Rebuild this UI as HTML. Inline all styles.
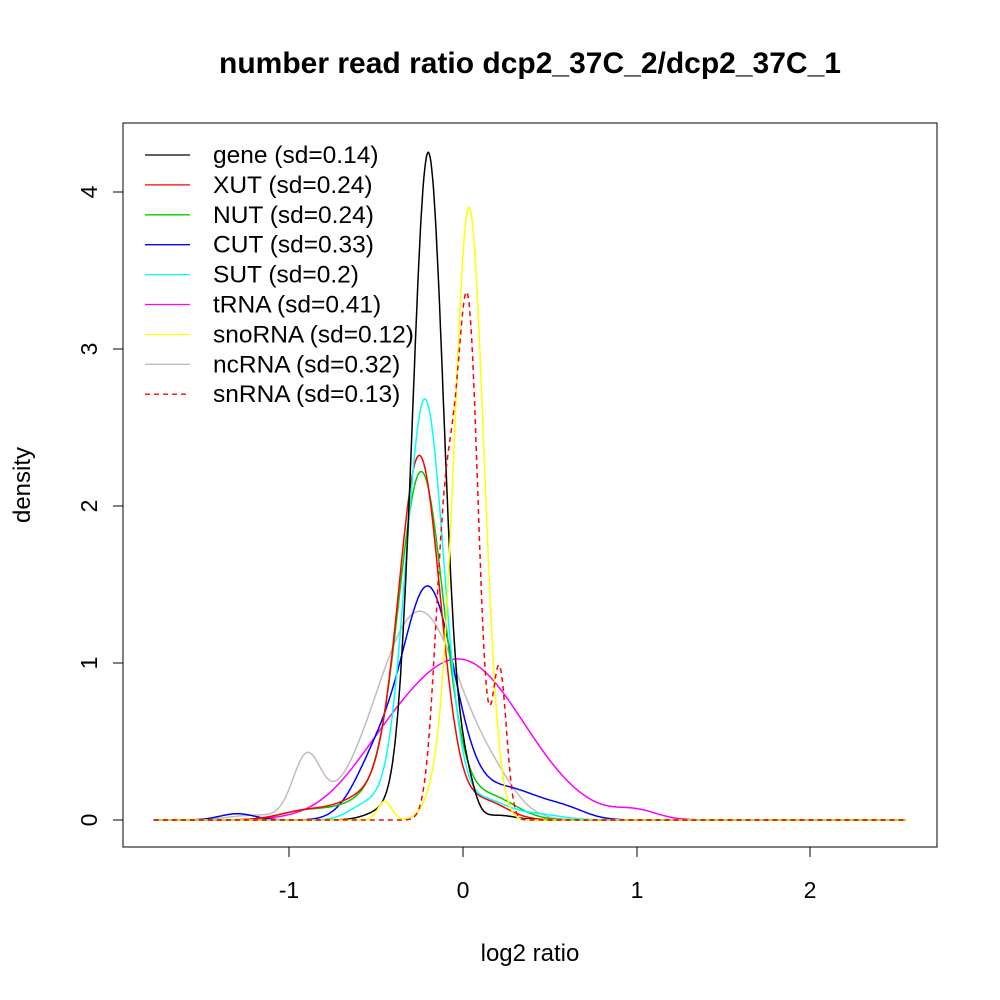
<!DOCTYPE html><html><head><style>body{margin:0;background:#fff}svg{display:block}text{font-family:"Liberation Sans",sans-serif}</style></head><body>
<svg id="s" width="1000" height="1000" xmlns="http://www.w3.org/2000/svg">
<rect width="1000" height="1000" fill="#fff"/>
<text x="530" y="73" font-size="30" font-weight="bold" text-anchor="middle">number read ratio dcp2_37C_2/dcp2_37C_1</text>
<rect x="123" y="123" width="814" height="724" fill="none" stroke="#000" stroke-width="1"/>
<g stroke="#000" fill="none">
<line x1="289" y1="847" x2="810" y2="847"/>
<line x1="289" y1="847" x2="289" y2="857"/><line x1="463" y1="847" x2="463" y2="857"/><line x1="637" y1="847" x2="637" y2="857"/><line x1="810" y1="847" x2="810" y2="857"/>
<line x1="123" y1="820" x2="123" y2="192"/>
<line x1="113" y1="820" x2="123" y2="820"/><line x1="113" y1="663" x2="123" y2="663"/><line x1="113" y1="506" x2="123" y2="506"/><line x1="113" y1="349" x2="123" y2="349"/><line x1="113" y1="192" x2="123" y2="192"/>
</g>
<g font-size="23" text-anchor="middle">
<text x="289" y="898">-1</text><text x="463" y="898">0</text><text x="637" y="898">1</text><text x="810" y="898">2</text>
<text transform="translate(97,820) rotate(-90)">0</text>
<text transform="translate(97,663) rotate(-90)">1</text>
<text transform="translate(97,506) rotate(-90)">2</text>
<text transform="translate(97,349) rotate(-90)">3</text>
<text transform="translate(97,192) rotate(-90)">4</text>
</g>
<g font-size="24" text-anchor="middle">
<text x="530" y="961">log2 ratio</text>
<text transform="translate(30,485) rotate(-90)">density</text>
</g>
<g id="curves" fill="none" stroke-width="1.5"></g>
<g id="leg" font-size="24.5"></g>
</svg>
<script>
var X=function(x){return 463+173.7*x},Y=function(y){return 820-157*y};
function g(x,m,s,h){return h*Math.exp(-0.5*((x-m)/s)*((x-m)/s));}
var series=[
["#bebebe",[[-0.25,0.25,1.33],[-0.9,0.08,0.38],[0.2,0.12,0.1],[-1.2,0.15,0.03]]],
["#ff00ff",[[-0.02,0.37,1.02],[1.0,0.12,0.05],[-0.5,0.2,0.1]]],
["#0000ff",[[-0.2,0.15,1.45],[-0.5,0.13,0.35],[0.25,0.2,0.2],[-1.3,0.1,0.04],[0.6,0.12,0.05]]],
["#00cd00",[[-0.24,0.13,2.2],[-0.55,0.15,0.12],[0.15,0.15,0.15],[-0.9,0.15,0.06]]],
["#ff0000",[[-0.25,0.12,2.3],[-0.55,0.15,0.15],[0.12,0.13,0.12],[-0.9,0.15,0.06]]],
["#00ffff",[[-0.22,0.11,2.68],[0.12,0.12,0.12],[-0.55,0.1,0.1],[0.4,0.15,0.04]]],
["#000000",[[-0.2,0.09,4.25],[0.02,0.05,0.2],[-0.45,0.1,0.06],[0.2,0.1,0.03]]],
["#ffff00",[[0.035,0.085,3.9],[-0.45,0.04,0.12],[-0.15,0.07,0.15]]],
["#ff0000",[[0.03,0.06,3.15],[-0.1,0.06,1.9],[0.21,0.04,0.95]],"5,4"]
];
var c=document.getElementById("curves"),ns="http://www.w3.org/2000/svg";
series.forEach(function(sr){var d="";for(var x=-1.78;x<=2.55;x+=0.005){var y=0;sr[1].forEach(function(k){y+=g(x,k[0],k[1],k[2]);});d+=(d?"L":"M")+X(x).toFixed(1)+","+Y(y).toFixed(1);}
var p=document.createElementNS(ns,"path");p.setAttribute("d",d);p.setAttribute("stroke",sr[0]);if(sr[2])p.setAttribute("stroke-dasharray",sr[2]);c.appendChild(p);});
var L=[["#000000","gene (sd=0.14)"],["#ff0000","XUT (sd=0.24)"],["#00cd00","NUT (sd=0.24)"],["#0000ff","CUT (sd=0.33)"],["#00ffff","SUT (sd=0.2)"],["#ff00ff","tRNA (sd=0.41)"],["#ffff00","snoRNA (sd=0.12)"],["#bebebe","ncRNA (sd=0.32)"],["#ff0000","snRNA (sd=0.13)",1]];
var lg=document.getElementById("leg");
L.forEach(function(l,i){var y=155+i*29.9;var ln=document.createElementNS(ns,"line");ln.setAttribute("x1",145);ln.setAttribute("x2",190);ln.setAttribute("y1",y);ln.setAttribute("y2",y);ln.setAttribute("stroke",l[0]);ln.setAttribute("stroke-width",1.3);if(l[2])ln.setAttribute("stroke-dasharray","5,4");lg.appendChild(ln);
var t=document.createElementNS(ns,"text");t.setAttribute("x",213);t.setAttribute("y",y+8);t.textContent=l[1];lg.appendChild(t);});
</script>
</body></html>
